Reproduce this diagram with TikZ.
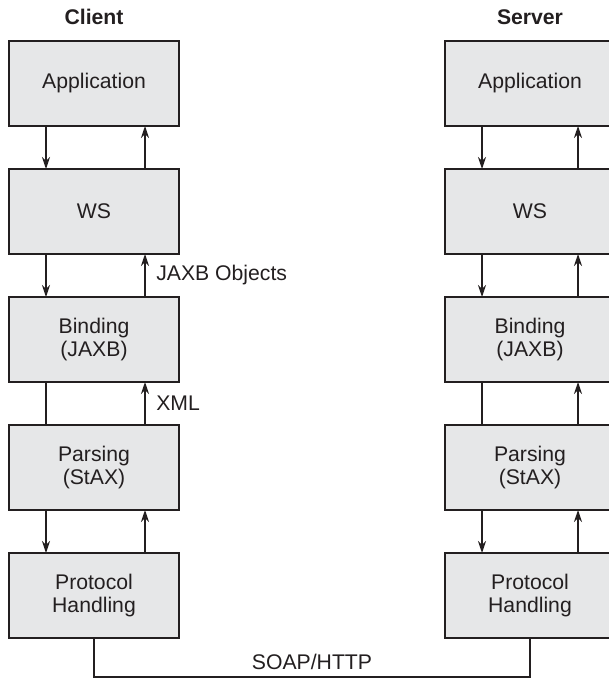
\documentclass[tikz,border=0pt]{standalone}
\usepackage{fontspec}
\setmainfont{Liberation Sans}
\usepackage{tikz}
\usetikzlibrary{arrows.meta,positioning}
\definecolor{ink}{HTML}{231F20}
\definecolor{boxgray}{HTML}{E6E7E8}

\begin{document}
\begin{tikzpicture}[
  x=0.5pt, y=-0.5pt,
  font=\fontsize{10.6}{11.8}\selectfont, text=ink,
  layer/.style={draw=ink, fill=boxgray, line width=0.6pt, minimum width=85pt, minimum height=42.5pt, align=center, inner sep=2pt, outer sep=0pt},
  title/.style={font=\fontsize{10.6}{11.8}\selectfont\bfseries, inner sep=0pt},
  link/.style={draw=ink, line width=0.6pt},
  arr/.style={link, -{Stealth[length=6pt, width=4pt]}}
]
\useasboundingbox (0,0) rectangle (609,680);
% client stack
\node[layer] (capp) at (94,83.5) {Application};
\node[layer, below=21.5pt of capp] (cws) {WS};
\node[layer, below=21.5pt of cws] (cbind) {Binding\\(JAXB)};
\node[layer, below=21.5pt of cbind] (cparse) {Parsing\\(StAX)};
\node[layer, below=21.5pt of cparse] (cprot) {Protocol\\Handling};
\node[title, above=8pt of capp] {Client};
% server stack
\node[layer, right=133pt of capp] (sapp) {Application};
\node[layer, below=21.5pt of sapp] (sws) {WS};
\node[layer, below=21.5pt of sws] (sbind) {Binding\\(JAXB)};
\node[layer, below=21.5pt of sbind] (sparse) {Parsing\\(StAX)};
\node[layer, below=21.5pt of sparse] (sprot) {Protocol\\Handling};
\node[title, above=8pt of sapp] {Server};
% client links
\draw[arr] ([xshift=-24pt]capp.south) -- ([xshift=-24pt]cws.north);
\draw[arr] ([xshift=25.5pt]cws.north) -- ([xshift=25.5pt]capp.south);
\draw[arr] ([xshift=-24pt]cws.south) -- ([xshift=-24pt]cbind.north);
\draw[arr] ([xshift=25.5pt]cbind.north) -- node[right, xshift=2pt] {JAXB Objects} ([xshift=25.5pt]cws.south);
\draw[link] ([xshift=-24pt]cbind.south) -- ([xshift=-24pt]cparse.north);
\draw[arr] ([xshift=25.5pt]cparse.north) -- node[right, xshift=2pt] {XML} ([xshift=25.5pt]cbind.south);
\draw[arr] ([xshift=-24pt]cparse.south) -- ([xshift=-24pt]cprot.north);
\draw[arr] ([xshift=25.5pt]cprot.north) -- ([xshift=25.5pt]cparse.south);
% server links
\draw[arr] ([xshift=-24pt]sapp.south) -- ([xshift=-24pt]sws.north);
\draw[arr] ([xshift=24pt]sws.north) -- ([xshift=24pt]sapp.south);
\draw[arr] ([xshift=-24pt]sws.south) -- ([xshift=-24pt]sbind.north);
\draw[arr] ([xshift=24pt]sbind.north) -- ([xshift=24pt]sws.south);
\draw[link] ([xshift=-24pt]sbind.south) -- ([xshift=-24pt]sparse.north);
\draw[arr] ([xshift=24pt]sparse.north) -- ([xshift=24pt]sbind.south);
\draw[arr] ([xshift=-24pt]sparse.south) -- ([xshift=-24pt]sprot.north);
\draw[arr] ([xshift=24pt]sprot.north) -- ([xshift=24pt]sparse.south);
% wire
\draw[link] (cprot.south) -- ++(0,39) -| node[pos=0.25, above] {SOAP/HTTP} (sprot.south);
\end{tikzpicture}
\end{document}
